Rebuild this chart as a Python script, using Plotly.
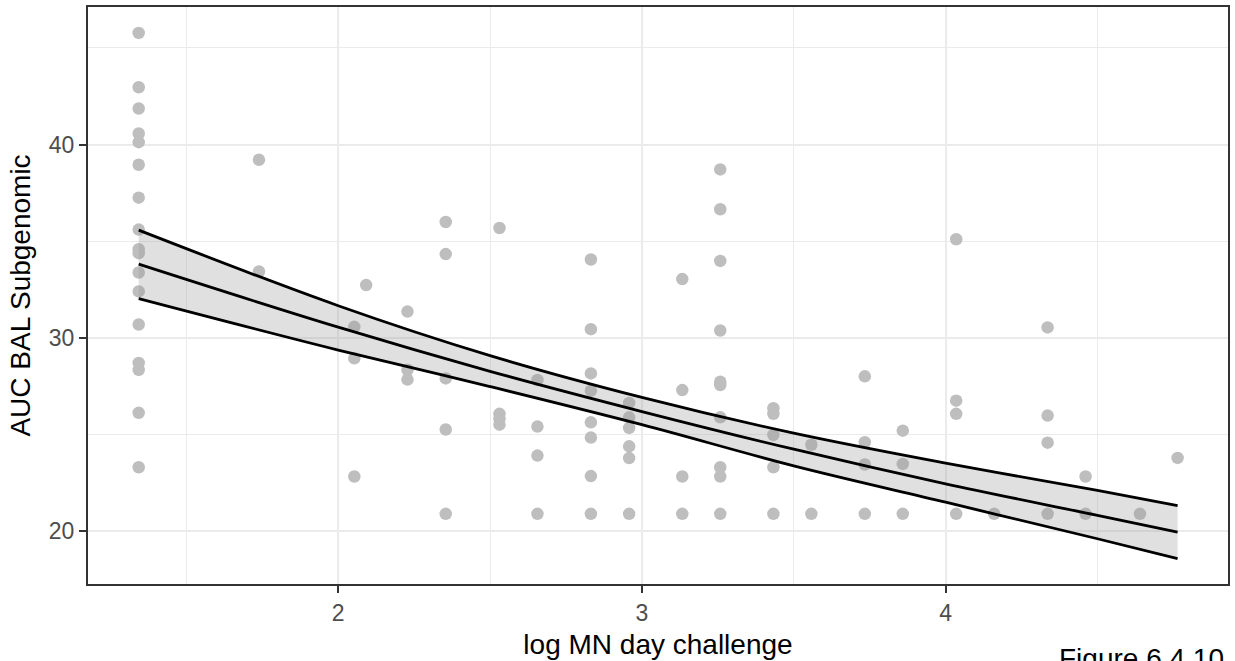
import plotly.graph_objects as go

# ---- data ----
x_levels = [1.343, 1.739, 2.053, 2.092, 2.228, 2.354, 2.531, 2.656, 2.832, 2.958, 3.133,
            3.258, 3.433, 3.558, 3.734, 3.859, 4.035, 4.160, 4.336, 4.461, 4.640, 4.764]
y_groups = [
    [45.78, 42.97, 41.87, 40.58, 40.13, 38.96, 37.26, 35.61, 34.59, 34.39, 33.39, 32.41,
     30.70, 28.71, 28.35, 26.13, 23.32],
    [39.22, 33.44],
    [30.58, 28.95, 22.84],
    [32.74],
    [31.37, 28.36, 27.85],
    [36.00, 34.34, 27.91, 25.27, 20.91],
    [35.69, 26.08, 25.82, 25.52],
    [27.83, 25.42, 23.92, 20.91],
    [34.06, 30.46, 28.17, 27.28, 25.64, 24.85, 22.86, 20.91],
    [26.64, 25.90, 25.35, 24.40, 23.79, 20.91],
    [33.05, 27.31, 22.84, 20.91],
    [38.72, 36.66, 33.99, 30.39, 27.74, 27.57, 25.90, 23.32, 22.84, 20.91],
    [26.37, 26.08, 24.99, 23.32, 20.91],
    [24.48, 20.91],
    [28.02, 24.61, 23.46, 20.91],
    [25.21, 23.49, 20.91],
    [35.11, 26.76, 26.08, 20.91],
    [20.91],
    [30.55, 25.99, 24.59, 20.91],
    [22.84, 20.91],
    [20.91],
    [23.80],
]

fit_x = [1.343, 2.0, 2.5, 3.0, 3.5, 4.0, 4.5, 4.764]
fit_mid = [33.82, 30.56, 28.28, 26.20, 24.25, 22.46, 20.83, 19.96]
fit_upper = [35.58, 31.67, 29.09, 26.93, 25.08, 23.53, 22.12, 21.33]
fit_lower = [32.04, 29.38, 27.49, 25.52, 23.39, 21.51, 19.62, 18.59]

x_title = "log MN day challenge"
y_title = "AUC BAL Subgenomic"
caption = "Figure 6.4.10"

# ---- build figure ----
px_, py_ = [], []
for xv, ys in zip(x_levels, y_groups):
    for yv in ys:
        px_.append(xv)
        py_.append(yv)

FONT = "Liberation Sans, Arial, sans-serif"
fig = go.Figure()
fig.add_trace(go.Scatter(x=px_, y=py_, mode="markers",
                         marker=dict(size=12.5, color="#bebebe", line=dict(width=0)),
                         showlegend=False, hoverinfo="x+y"))
fig.add_trace(go.Scatter(x=fit_x, y=fit_lower, mode="lines",
                         line=dict(width=0, shape="spline"), showlegend=False,
                         hoverinfo="skip"))
fig.add_trace(go.Scatter(x=fit_x, y=fit_upper, mode="lines", fill="tonexty",
                         fillcolor="rgba(153,153,153,0.3)",
                         line=dict(width=0, shape="spline"), showlegend=False,
                         hoverinfo="skip"))
for ys in (fit_upper, fit_mid, fit_lower):
    fig.add_trace(go.Scatter(x=fit_x, y=ys, mode="lines",
                             line=dict(color="black", width=2.8, shape="spline"),
                             showlegend=False))

axis_common = dict(
    showline=True, mirror=True, linecolor="#333333", linewidth=2,
    ticks="outside", ticklen=7, tickwidth=2, tickcolor="#333333",
    tickfont=dict(family=FONT, size=23, color="#4d4d4d"),
    showgrid=True, gridcolor="#ebebeb", gridwidth=2, zeroline=False,
)
fig.update_layout(
    width=1235, height=661,
    margin=dict(l=88, r=5, t=6, b=77),
    paper_bgcolor="white", plot_bgcolor="white",
    font=dict(family=FONT),
    xaxis=dict(range=[1.176, 4.930], tick0=0, dtick=1,
               minor=dict(dtick=0.5, tick0=0, showgrid=True, gridcolor="#ebebeb",
                          gridwidth=1, ticks=""),
               title=dict(text=x_title, font=dict(family=FONT, size=28, color="black"),
                          standoff=10),
               **axis_common),
    yaxis=dict(range=[17.28, 47.12], tick0=0, dtick=10,
               minor=dict(dtick=5, tick0=0, showgrid=True, gridcolor="#ebebeb",
                          gridwidth=1, ticks=""),
               title=dict(text=y_title, font=dict(family=FONT, size=28, color="black"),
                          standoff=10),
               **axis_common),
    annotations=[dict(text=caption, xref="paper", yref="paper", x=0.9985, y=-0.098,
                      xanchor="right", yanchor="top", showarrow=False,
                      font=dict(family=FONT, size=28, color="black"))],
)
fig.write_html("out.html", config={"displayModeBar": False},
               post_script="document.body.style.margin='0';document.body.style.overflow='hidden';")
